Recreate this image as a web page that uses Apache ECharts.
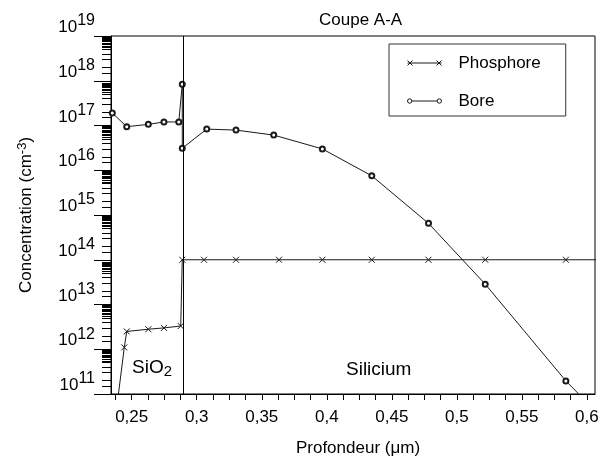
<!DOCTYPE html>
<html>
<head>
<meta charset="utf-8">
<script src="https://cdn.jsdelivr.net/npm/echarts@6/dist/echarts.min.js"></script>
<style>html,body{margin:0;padding:0;background:#fff}#c{width:615px;height:462px}</style>
</head>
<body>
<div id="c"></div>
<script>
// ---- data ----
const phosX = [0.2351, 0.2443, 0.2462, 0.2628, 0.2748, 0.2877, 0.2889, 0.3056, 0.3302, 0.3633, 0.3966, 0.4346, 0.4782, 0.5218, 0.5838, 0.6300];
const phosY = [8e9, 1.1e12, 2.5e12, 2.8e12, 3.0e12, 3.3e12, 1e14, 1e14, 1e14, 1e14, 1e14, 1e14, 1e14, 1e14, 1e14, 1e14];
const boreX = [0.2351, 0.2462, 0.2628, 0.2748, 0.2862, 0.2889, 0.2889, 0.3077, 0.3302, 0.3592, 0.3966, 0.4346, 0.4782, 0.5218, 0.5838, 0.6000];
const boreY = [1.9e17, 9.4e16, 1.06e17, 1.2e17, 1.2e17, 8.3e17, 3.1e16, 8.3e16, 7.9e16, 6.1e16, 3.0e16, 7.5e15, 6.5e14, 2.85e13, 1.96e11, 6.5e10];
const interfaceX = 0.2889;
const xLabelValues = [0.25, 0.3, 0.35, 0.4, 0.45, 0.5, 0.55, 0.6];
const yMinExp = 11, yMaxExp = 19;
const minorMult = [1.5, 2, 3, 4, 5, 5.5, 6, 6.5, 7, 7.5, 8, 8.5, 9, 9.5];
const seriesNames = ['Phosphore', 'Bore'];

// ---- derived ----
const xMin = 0.2341, xMax = 0.6062;
const xTickValues = [];
for (let k = 19; k <= 48; k++) xTickValues.push(+(k * 0.0125).toFixed(4));
const yMinorTicks = [];
for (let e = yMinExp; e < yMaxExp; e++) minorMult.forEach(m => yMinorTicks.push(e + Math.log10(m)));

const FONT = '"Liberation Sans", Arial, Helvetica, sans-serif';
const INK = '#1a1a1a';

const crossIcon = 'path://M0,5L34,5M0,2.5L5,7.5M5,2.5L0,7.5M29,2.5L34,7.5M34,2.5L29,7.5';
const circIcon = 'path://M0,5A2.2,2.2 0 1,0 4.4,5A2.2,2.2 0 1,0 0,5M4.4,5L29.6,5M29.6,5A2.2,2.2 0 1,0 34,5A2.2,2.2 0 1,0 29.6,5';

const chart = echarts.init(document.getElementById('c'), null, {renderer: 'canvas'});
chart.setOption({
  animation: false,
  backgroundColor: '#fff',
  textStyle: {fontFamily: FONT},
  title: {
    text: 'Coupe A-A', left: 314, top: 7,
    textStyle: {fontFamily: FONT, fontSize: 17, fontWeight: 'normal', color: '#000'}
  },
  grid: {left: 111, right: 20, top: 36, bottom: 63, show: true, borderColor: '#000', borderWidth: 1, containLabel: false},
  legend: {
    orient: 'vertical', left: 389, top: 44,
    padding: [9, 25, 5, 18],
    borderColor: '#333', borderWidth: 1,
    itemWidth: 34, itemHeight: 6, itemGap: 18,
    textStyle: {fontFamily: FONT, fontSize: 17, color: '#000', padding: [0, 0, 0, 12], lineHeight: 20},
    itemStyle: {color: 'transparent', borderColor: INK, borderWidth: 1},
    data: [{name: seriesNames[0], icon: crossIcon}, {name: seriesNames[1], icon: circIcon}]
  },
  xAxis: [{
    type: 'value', min: xMin, max: xMax,
    name: 'Profondeur (\u03bcm)', nameLocation: 'middle', nameGap: 46,
    nameTextStyle: {fontFamily: FONT, fontSize: 17, color: '#000', padding: [0, 0, 0, 10]},
    axisLine: {show: true, lineStyle: {color: '#000', width: 1}},
    axisTick: {show: true, length: 6, customValues: xTickValues, lineStyle: {color: '#000'}},
    axisLabel: {
      customValues: xLabelValues, margin: 15,
      fontFamily: FONT, fontSize: 17, color: '#000',
      formatter: v => String(+v.toFixed(2)).replace('.', ',')
    },
    splitLine: {show: false}
  }],
  yAxis: [{
    type: 'log', logBase: 10, min: Math.pow(10, yMinExp), max: Math.pow(10, yMaxExp), interval: 1,
    name: 'Concentration (cm{sup|-3})', nameLocation: 'middle', nameGap: 74,
    nameTextStyle: {fontFamily: FONT, fontSize: 17, color: '#000',
      rich: {sup: {fontFamily: FONT, fontSize: 13, color: '#000', padding: [0, 0, 8, 0]}}},
    axisLine: {show: true, lineStyle: {color: '#000', width: 1}},
    axisTick: {show: true, length: 17, lineStyle: {color: '#000'}},
    axisLabel: {
      margin: 16, verticalAlign: 'bottom',
      formatter: v => '{b|10}{s|' + Math.round(Math.log10(v)) + '}',
      rich: {
        b: {fontFamily: FONT, fontSize: 17, color: '#000', padding: [6, 0, 0, 0]},
        s: {fontFamily: FONT, fontSize: 16, color: '#000', padding: [0, 0, 7, 0]}
      }
    },
    splitLine: {show: false}, minorTick: {show: false}
  }, {
    type: 'value', min: yMinExp, max: yMaxExp, position: 'left',
    axisLine: {show: false},
    axisTick: {show: true, length: 9, customValues: yMinorTicks, lineStyle: {color: '#000'}},
    axisLabel: {show: false}, splitLine: {show: false}
  }],
  series: [{
    name: seriesNames[0], type: 'line', yAxisIndex: 0,
    data: phosX.map((x, i) => [x, phosY[i]]),
    symbol: 'path://M0,0L10,10M10,0L0,10', symbolSize: 6,
    itemStyle: {color: 'transparent', borderColor: INK, borderWidth: 1},
    lineStyle: {color: INK, width: 1}, clip: true
  }, {
    name: seriesNames[1], type: 'line', yAxisIndex: 0,
    data: boreX.map((x, i) => [x, boreY[i]]),
    symbol: 'emptyCircle', symbolSize: 5,
    itemStyle: {color: INK, borderColor: INK, borderWidth: 1},
    lineStyle: {color: INK, width: 1}, clip: true,
    markLine: {
      silent: true, symbol: 'none', label: {show: false},
      lineStyle: {color: '#000', width: 1, type: 'solid'},
      data: [{xAxis: interfaceX}]
    }
  }],
  graphic: [{
    type: 'text', left: 132, top: 358, silent: true,
    style: {text: '{a|SiO}{b|2}', rich: {
      a: {fontFamily: FONT, fontSize: 19, fill: '#000'},
      b: {fontFamily: FONT, fontSize: 15, fill: '#000', padding: [8, 0, 0, 0]}
    }}
  }, {
    type: 'text', left: 346, top: 360, silent: true,
    style: {text: 'Silicium', fontFamily: FONT, fontSize: 19, fill: '#000'}
  }]
});
</script>
</body>
</html>
